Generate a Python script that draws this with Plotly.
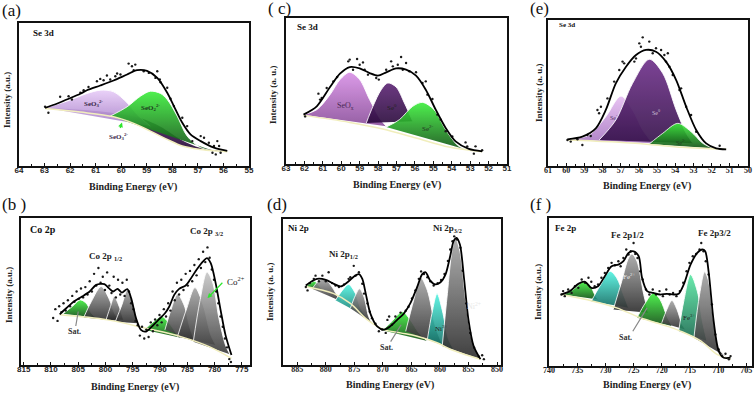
import plotly.graph_objects as go

# ---------------- (a) Se 3d ----------------
A_FIT_X = [62.98, 62.6, 62.13, 61.6, 61.34, 60.82, 60.3, 59.77, 59.38, 58.99, 58.59, 58.2, 57.94, 57.61, 57.29, 56.89, 56.37, 55.85]
A_FIT_Y = [40.7, 43.0, 46.5, 50.5, 53.0, 56.3, 59.8, 64.0, 67.0, 66.5, 61.6, 51.2, 41.9, 30.2, 22.1, 17.4, 12.8, 10.5]
A_BG_X = [62.98, 61.6, 60.3, 59.51, 58.86, 58.2, 57.61, 56.89, 56.24, 55.85]
A_BG_Y = [40.2, 37.7, 34.4, 29.8, 24.4, 18.6, 14.0, 11.6, 10.5, 10.0]
A_DATA_X = [62.98, 62.85, 62.39, 62.06, 61.93, 61.6, 61.47, 61.28, 60.95, 60.82, 60.69, 60.56, 60.43, 60.23, 60.16, 60.03,
            59.71, 59.58, 59.51, 59.45, 59.12, 58.92, 58.66, 58.59, 58.49, 58.46, 58.2, 58.07, 57.94, 57.61, 57.42, 57.22,
            56.89, 56.76, 56.57, 56.43, 56.37, 56.3, 56.24, 56.17, 56.11]
A_DATA_Y = [41.4, 37.2, 48.4, 48.8, 46.5, 51.2, 53.0, 55.3, 59.3, 60.9, 60.0, 63.3, 60.5, 62.8, 64.7, 64.0,
            71.6, 69.8, 67.0, 70.9, 66.3, 65.1, 61.6, 66.3, 60.5, 58.6, 54.7, 47.0, 41.9, 33.7, 27.9, 17.4,
            20.9, 19.8, 16.3, 9.3, 14.0, 8.1, 17.4, 14.0, 9.3]
A_PEAK_X = [
    [62.98, 61.47, 60.16, 59.25, 58.46, 57.68, 56.89, 55.85, 56.89, 57.61, 58.2, 58.86, 59.51, 60.3, 61.6],
    [62.98, 62.13, 61.34, 60.82, 60.3, 59.77, 59.38, 58.86],
    [60.43, 59.77, 59.25, 58.86, 58.46, 58.2, 57.81, 57.42, 56.89, 56.37],
]
A_PEAK_Y = [
    [40.7, 39.1, 36.7, 33.5, 27.4, 18.6, 12.6, 10.0, 11.6, 14.0, 18.6, 24.4, 29.8, 34.4, 37.7],
    [40.7, 45.3, 50.7, 53.0, 51.9, 44.2, 36.0, 27.9],
    [34.9, 41.4, 48.8, 52.3, 50.7, 46.5, 34.9, 20.9, 12.8, 10.5],
]

# ---------------- (c) Se 3d ----------------
C_FIT_X = [62.05, 61.33, 60.61, 60.07, 59.54, 59.0, 58.46, 58.01, 57.56, 57.02, 56.48, 55.94, 55.41, 54.87, 54.33, 53.79, 53.07, 52.35]
C_FIT_Y = [33.8, 39.5, 52.7, 61.9, 66.4, 65.5, 62.3, 60.5, 62.8, 65.5, 64.6, 60.5, 50.9, 37.2, 24.7, 15.5, 10.3, 8.7]
C_BG_X = [62.05, 59.54, 57.74, 55.94, 54.15, 52.35]
C_BG_Y = [33.3, 28.5, 24.0, 17.8, 11.6, 8.4]
C_DATA_X = [61.96, 61.24, 61.15, 61.06, 60.79, 60.43, 60.22, 59.62, 59.54, 59.36, 59.14, 59.0, 58.82, 58.73, 58.55, 58.1,
            57.96, 57.56, 57.29, 57.2, 56.93, 56.75, 56.66, 56.48, 56.3, 55.94, 55.59, 55.41, 55.32, 55.05, 54.78, 54.6,
            54.33, 53.97, 53.25, 53.16, 52.71, 52.8, 52.35]
C_DATA_Y = [32.6, 48.2, 44.1, 45.2, 52.1, 56.6, 59.6, 70.3, 71.5, 64.6, 71.9, 68.0, 69.6, 64.6, 61.2, 58.9,
            57.8, 64.6, 70.3, 66.9, 68.0, 73.3, 64.6, 69.2, 63.5, 62.8, 55.5, 56.6, 47.5, 44.5, 33.8, 30.4,
            22.4, 18.9, 14.8, 12.1, 12.1, 7.1, 9.4]
C_PEAK_X = [
    [62.05, 61.33, 60.61, 60.07, 59.54, 59.0, 58.46, 57.92, 57.56],
    [58.64, 58.28, 57.83, 57.47, 57.02, 56.57, 56.12],
    [57.56, 56.84, 56.12, 55.59, 54.96, 54.33, 53.61, 52.89],
]
C_PEAK_Y = [
    [33.8, 37.2, 47.5, 57.8, 62.8, 57.8, 44.1, 31.5, 25.8],
    [28.1, 39.5, 50.9, 55.5, 52.7, 41.8, 29.2],
    [25.3, 30.4, 39.5, 42.2, 37.2, 23.5, 12.1, 8.7],
]

# ---------------- (e) Se 3d ----------------
E_FIT_X = [59.93, 59.11, 58.37, 57.82, 57.27, 56.71, 56.16, 55.61, 55.06, 54.51, 53.95, 53.4, 52.85, 52.3, 51.75, 51.2]
E_FIT_Y = [18.3, 20.1, 25.8, 38.4, 56.6, 68.0, 76.0, 79.5, 78.3, 71.5, 58.9, 40.6, 24.7, 15.5, 12.1, 11.4]
E_BG_X = [59.93, 57.27, 55.43, 53.59, 51.2]
E_BG_Y = [17.8, 16.4, 14.8, 12.8, 11.4]
E_DATA_X = [59.93, 59.75, 59.38, 59.11, 58.83, 58.65, 58.28, 58.19, 58.09, 57.73, 57.36, 57.08, 56.9, 56.81, 56.25, 56.16,
            55.98, 55.89, 55.79, 55.43, 55.24, 55.06, 54.78, 54.6, 54.51, 54.41, 54.32, 54.14, 53.77, 53.68, 53.4, 53.13,
            52.85, 51.56]
E_DATA_Y = [17.8, 16.7, 18.3, 14.4, 21.2, 20.5, 38.4, 36.1, 40.6, 46.3, 57.8, 65.8, 71.5, 70.3, 71.5, 73.7,
            84.0, 81.7, 88.1, 85.2, 77.2, 80.6, 79.5, 76.0, 71.5, 77.2, 68.0, 62.3, 52.1, 53.2, 40.6, 34.9,
            23.5, 13.9]
E_PEAK_X = [
    [59.93, 58.74, 57.82, 56.99, 56.35, 55.79, 55.24],
    [58.19, 57.27, 56.35, 55.43, 54.69, 53.95, 53.4, 53.03],
    [55.43, 54.69, 53.86, 53.13, 52.48, 51.93],
]
E_PEAK_Y = [
    [18.3, 21.2, 33.8, 47.9, 38.4, 24.7, 15.5],
    [17.8, 31.5, 56.6, 73.1, 63.5, 38.4, 22.4, 15.5],
    [15.1, 22.4, 29.2, 23.5, 15.5, 12.1],
]

# ---------------- (b) Co 2p ----------------
B_FIT_X = [808.4, 807.2, 805.8, 804.3, 802.9, 801.7, 800.2, 799.4, 798.6, 797.8, 797.0, 796.0, 795.3, 794.4, 793.5, 792.6,
           791.5, 790.3, 789.1, 788.3, 787.4, 786.5, 785.3, 784.5, 783.3, 782.1, 781.4, 780.7, 779.8, 778.9, 778.0, 776.9]
B_FIT_Y = [34.5, 38.6, 43.2, 46.6, 50.0, 54.5, 55.0, 52.3, 50.0, 51.8, 49.3, 51.6, 45.5, 31.8, 23.9, 22.7,
           26.1, 30.7, 35.2, 39.8, 47.7, 51.8, 54.1, 58.0, 64.8, 70.5, 72.7, 69.3, 55.7, 37.5, 20.5, 6.8]
B_BG_X = [808.4, 799.6, 792.6, 786.2, 781.0, 776.9]
B_BG_Y = [34.1, 30.7, 25.0, 19.3, 12.5, 4.5]
B_DATA_X = [809.6, 809.2, 808.8, 808.5, 808.1, 807.7, 807.3, 806.9, 806.5, 806.1, 805.7, 805.3, 804.9, 804.5, 804.1, 803.7,
            803.3, 802.9, 802.5, 802.1, 801.7, 801.3, 800.9, 800.5, 800.1, 799.7, 799.3, 798.9, 798.5, 798.1, 797.7, 797.3,
            796.9, 796.5, 796.1, 795.7, 795.3, 794.9, 794.5, 794.1, 793.7, 793.3, 792.9, 792.5, 792.1, 791.7, 791.3, 790.9,
            790.5, 790.1, 789.7, 789.3, 788.9, 788.5, 788.1, 787.7, 787.3, 786.9, 786.5, 786.1, 785.7, 785.3, 784.9, 784.5,
            784.1, 783.7, 783.3, 782.9, 782.5, 782.1, 781.7, 781.3, 780.9, 780.5, 780.1, 779.7, 779.3, 778.9, 778.5, 778.1,
            777.7, 777.3, 777.0]
B_DATA_Y = [32, 38, 30, 40, 36, 42, 37, 44, 40, 47, 43, 50, 45, 52, 46, 53,
            48, 57, 50, 62, 54, 66, 56, 60, 51, 63, 54, 49, 60, 46, 58, 48,
            56, 47, 58, 50, 42, 38, 30, 27, 20, 26, 18, 24, 19, 29, 23, 31,
            27, 34, 29, 38, 33, 42, 37, 50, 44, 56, 48, 58, 51, 62, 54, 64,
            57, 68, 61, 72, 66, 77, 70, 80, 73, 65, 58, 50, 42, 33, 26, 18,
            12, 4, 2]
B_PEAK_X = [
    [807.8, 806.1, 804.6, 803.4, 802.6, 801.7],
    [804.0, 802.6, 800.8, 799.4, 798.2, 797.3],
    [799.9, 799.1, 798.4, 797.6, 796.7],
    [798.2, 797.0, 796.0, 795.1, 794.1],
    [792.9, 791.2, 789.7, 788.3, 786.8, 786.2],
    [789.1, 788.0, 786.8, 785.6, 784.5, 783.6],
    [786.8, 785.1, 783.6, 782.1, 780.7, 779.8],
    [783.9, 782.7, 781.4, 780.4, 779.2, 778.0, 777.2],
]
B_PEAK_Y = [
    [34.8, 39.8, 44.3, 41.4, 35.2, 32.3],
    [32.3, 43.2, 53.4, 45.5, 34.1, 30.0],
    [30.7, 39.8, 46.6, 40.9, 30.7],
    [29.5, 40.9, 51.1, 43.2, 28.4],
    [23.9, 29.5, 33.0, 28.4, 20.5, 18.6],
    [23.9, 37.5, 48.2, 40.9, 25.0, 15.9],
    [19.3, 38.6, 52.7, 40.9, 20.5, 13.6],
    [15.9, 43.2, 63.2, 56.8, 31.8, 13.6, 7.3],
]

# ---------------- (d) Ni 2p ----------------
D_FIT_X = [883.5, 882.7, 881.5, 880.0, 878.6, 877.4, 876.2, 875.1, 874.2, 873.6, 873.0, 872.2, 871.0, 869.8, 868.7, 867.5,
           866.3, 865.2, 864.0, 863.1, 862.5, 861.7, 860.8, 859.9, 859.0, 858.2, 857.6, 857.1, 856.5, 855.8, 855.0, 854.1, 852.9]
D_FIT_Y = [54.5, 56.7, 59.0, 58.3, 55.6, 53.8, 56.7, 60.5, 62.3, 59.0, 48.9, 35.4, 26.5, 24.2, 26.5, 30.9,
           35.4, 42.2, 53.4, 62.3, 63.5, 57.8, 55.2, 56.7, 62.3, 74.7, 84.8, 87.0, 82.5, 60.1, 30.9, 13.0, 4.0]
D_BG_X = [883.5, 878.6, 875.7, 872.7, 869.8, 866.9, 864.0, 860.5, 858.2, 855.2, 852.9]
D_BG_Y = [53.8, 48.9, 42.2, 30.9, 24.2, 22.0, 19.7, 15.2, 10.8, 6.7, 4.0]
D_DATA_X = [883.5, 883.2, 882.8, 882.1, 881.8, 881.2, 880.6, 880.0, 879.5, 878.9, 878.3, 877.7, 876.8, 876.0, 875.7, 875.1,
            874.8, 874.2, 873.6, 873.3, 872.7, 872.3, 871.9, 871.3, 870.7, 870.1, 869.5, 869.2, 868.9, 868.4, 867.8, 866.9,
            866.0, 865.5, 864.9, 864.3, 863.7, 863.3, 862.8, 862.2, 861.7, 861.1, 860.4, 859.8, 859.2, 858.6, 858.2, 857.8,
            857.5, 857.0, 856.4, 856.0, 855.4, 854.7, 854.0, 853.2, 852.6, 852.3]
D_DATA_Y = [53.4, 51.1, 56.1, 59.0, 61.2, 57.4, 61.2, 57.4, 63.5, 56.1, 54.5, 53.4, 55.2, 59.0, 60.1, 67.9,
            61.2, 63.5, 55.6, 48.9, 42.2, 36.5, 32.1, 28.3, 23.1, 24.2, 22.0, 30.9, 33.2, 27.6, 33.2, 35.9,
            37.2, 39.9, 45.5, 51.1, 59.0, 64.1, 62.3, 60.1, 57.4, 54.5, 56.1, 58.3, 62.3, 71.3, 79.1, 84.8,
            88.1, 85.9, 80.3, 64.6, 42.2, 22.0, 11.9, 5.8, 6.7, 4.0]
D_PEAK_X = [
    [883.5, 882.7, 882.0, 881.2, 880.6],
    [882.4, 881.2, 880.2, 878.9, 877.7, 877.1],
    [878.3, 877.1, 876.0, 874.8, 873.9, 873.0],
    [875.7, 874.8, 874.1, 873.3, 872.5, 871.9],
    [870.1, 868.7, 866.6, 865.2, 863.7, 862.2],
    [866.0, 864.6, 863.4, 862.2, 860.8, 859.6],
    [862.2, 861.4, 860.5, 859.6, 858.5, 857.6],
    [859.6, 858.7, 857.9, 857.3, 856.5, 855.5, 854.4, 852.9],
]
D_PEAK_Y = [
    [54.0, 56.1, 57.4, 54.5, 51.1],
    [52.2, 57.8, 59.0, 53.4, 45.5, 43.3],
    [44.4, 51.1, 55.2, 48.9, 38.8, 33.2],
    [38.8, 47.8, 52.2, 46.6, 33.2, 28.7],
    [23.8, 28.7, 36.5, 30.9, 22.0, 16.4],
    [23.1, 44.4, 60.1, 51.1, 26.5, 14.1],
    [17.5, 35.4, 48.9, 37.7, 17.5, 10.8],
    [13.0, 48.9, 78.0, 87.0, 78.0, 44.4, 17.5, 4.0],
]

# ---------------- (f) Fe 2p ----------------
F_FIT_X = [737.8, 736.3, 734.8, 733.6, 732.5, 731.3, 730.1, 728.9, 727.7, 726.8, 725.9, 725.0, 724.1, 723.5, 722.6, 721.5,
           720.3, 719.1, 717.9, 717.0, 716.1, 714.9, 713.7, 712.8, 712.3, 711.7, 710.8, 709.9, 709.0, 707.8]
F_FIT_Y = [48.3, 50.6, 55.5, 56.9, 52.8, 53.9, 60.7, 67.4, 68.5, 70.8, 76.4, 77.5, 74.2, 59.6, 50.6, 49.4,
           48.3, 48.8, 48.3, 48.8, 55.1, 68.5, 76.4, 78.7, 77.5, 64.0, 30.3, 10.1, 5.6, 5.6]
F_BG_X = [737.8, 732.2, 728.0, 723.8, 719.1, 716.7, 713.1, 710.2, 707.8]
F_BG_Y = [48.3, 43.8, 39.3, 32.6, 27.0, 23.6, 16.9, 7.9, 4.5]
F_DATA_X = [737.8, 737.5, 737.2, 736.6, 736.0, 735.4, 734.8, 734.2, 733.6, 733.0, 732.5, 731.9, 731.3, 730.7, 730.1, 729.5,
            728.9, 728.3, 727.7, 727.3, 726.8, 726.3, 725.9, 725.5, 725.0, 724.7, 724.3, 723.8, 723.4, 722.8, 722.2, 721.6,
            721.0, 720.4, 719.8, 719.2, 718.6, 718.0, 717.4, 716.8, 716.2, 715.6, 715.1, 714.5, 713.9, 713.3, 713.0, 712.6,
            712.2, 711.7, 711.1, 710.5, 709.9, 709.3, 708.7, 708.1, 707.8]
F_DATA_Y = [48.3, 50.6, 47.2, 51.7, 49.4, 53.9, 52.8, 58.4, 56.2, 59.6, 56.9, 53.9, 55.1, 59.6, 62.9, 66.3,
            69.7, 68.1, 70.8, 67.4, 73.0, 78.7, 75.3, 77.5, 83.1, 75.7, 73.0, 64.0, 58.4, 51.7, 48.3, 51.7,
            48.3, 50.6, 47.2, 51.7, 48.3, 49.4, 47.2, 50.6, 56.2, 64.0, 69.7, 74.2, 75.7, 78.7, 83.1, 77.5,
            70.8, 61.8, 41.6, 21.3, 11.2, 6.7, 8.3, 4.5, 6.7]
F_PEAK_X = [
    [737.5, 735.7, 733.9, 732.8, 731.9, 731.3],
    [732.5, 731.0, 729.2, 728.0, 726.8, 725.9],
    [728.6, 727.1, 725.9, 725.3, 724.4, 723.2, 722.4],
    [724.4, 722.9, 721.5, 720.3, 719.1, 718.2],
    [720.0, 719.1, 718.2, 717.3, 716.4, 715.8],
    [717.0, 716.1, 714.9, 713.7, 712.8, 712.0],
    [714.3, 713.3, 712.4, 711.7, 710.8, 709.6, 707.8],
]
F_PEAK_Y = [
    [48.3, 51.7, 56.9, 55.1, 48.3, 44.9],
    [43.8, 53.9, 64.0, 59.6, 48.3, 39.3],
    [38.2, 57.3, 73.0, 75.7, 70.8, 48.3, 36.0],
    [32.6, 42.7, 49.4, 44.9, 33.7, 27.0],
    [29.2, 38.2, 44.3, 38.2, 28.1, 24.7],
    [23.6, 43.8, 61.8, 50.6, 30.3, 16.9],
    [19.1, 48.3, 63.6, 57.3, 30.3, 10.1, 4.5],
]

# fill colours (top, bottom) for each component
LAV = ("#e8cdf8", "#a47cc6")
DKP = ("#4e1e6a", "#240833")
GRN = ("#3cf03c", "#0f4d12")
ORC = ("#d890e6", "#8a4e9a")
DKP2 = ("#5c2474", "#2a0a3c")
LAV2 = ("#e6bdf2", "#a878c2")
PUR = ("#6e2f8a", "#330f48")
GRY = ("#a6a6a6", "#2b2b2b")
LGRY = ("#c8c8c8", "#3a3a3a")
CYN = ("#52f4e2", "#0f6a60")
MNT = ("#5ae8a4", "#17674d")

SERIF = "Liberation Serif"
SANS = "Liberation Sans"

fig = go.Figure()


def add_panel(n, peak_x, peak_y, cols, fit_x, fit_y, bg_x, bg_y, dx, dy, band=False):
    xa = "x" if n == 1 else f"x{n}"
    ya = "y" if n == 1 else f"y{n}"
    for i, (px, py, col) in enumerate(zip(peak_x, peak_y, cols)):
        lw = 0 if (band and i == 0) else 0.9
        fig.add_trace(go.Scatter(
            x=px, y=py, mode="lines", fill="toself",
            line=dict(color="white", width=lw, shape="spline", smoothing=0.9),
            fillgradient=dict(type="vertical", colorscale=[[0, col[1]], [1, col[0]]]),
            opacity=0.9, xaxis=xa, yaxis=ya, hoverinfo="skip", showlegend=False))
    fig.add_trace(go.Scatter(
        x=bg_x, y=bg_y, mode="lines", line=dict(color="#f1eebc", width=1.5, shape="spline"),
        xaxis=xa, yaxis=ya, hoverinfo="skip", showlegend=False))
    fig.add_trace(go.Scatter(
        x=dx, y=dy, mode="markers", marker=dict(size=2.4, color="#1a1a1a"),
        xaxis=xa, yaxis=ya, hoverinfo="skip", showlegend=False))
    fig.add_trace(go.Scatter(
        x=fit_x, y=fit_y, mode="lines", line=dict(color="black", width=1.8, shape="spline", smoothing=0.8),
        xaxis=xa, yaxis=ya, hoverinfo="skip", showlegend=False))


add_panel(1, A_PEAK_X, A_PEAK_Y, [DKP, LAV, GRN], A_FIT_X, A_FIT_Y, A_BG_X, A_BG_Y, A_DATA_X, A_DATA_Y, band=True)
add_panel(2, B_PEAK_X, B_PEAK_Y, [GRN, GRY, GRY, GRY, GRN, GRY, GRY, LGRY], B_FIT_X, B_FIT_Y, B_BG_X, B_BG_Y, B_DATA_X, B_DATA_Y)
add_panel(3, C_PEAK_X, C_PEAK_Y, [ORC, DKP2, GRN], C_FIT_X, C_FIT_Y, C_BG_X, C_BG_Y, C_DATA_X, C_DATA_Y)
add_panel(4, D_PEAK_X, D_PEAK_Y, [GRN, GRY, CYN, GRY, GRN, GRY, CYN, GRY], D_FIT_X, D_FIT_Y, D_BG_X, D_BG_Y, D_DATA_X, D_DATA_Y)
add_panel(5, E_PEAK_X, E_PEAK_Y, [LAV2, PUR, GRN], E_FIT_X, E_FIT_Y, E_BG_X, E_BG_Y, E_DATA_X, E_DATA_Y)
add_panel(6, F_PEAK_X, F_PEAK_Y, [GRN, CYN, GRY, GRN, GRY, MNT, GRY], F_FIT_X, F_FIT_Y, F_BG_X, F_BG_Y, F_DATA_X, F_DATA_Y)

W, H = 756, 396


def dom_x(a, b):
    return [a / W, b / W]


def dom_y(top, bottom):
    return [1 - bottom / H, 1 - top / H]


def xaxis(n, domain, rng, dtick, minor, tickfam):
    return dict(domain=domain, range=rng, anchor="y" if n == 1 else f"y{n}",
                showline=True, mirror=True, linecolor="#111", linewidth=1.5,
                ticks="inside", ticklen=3, tickwidth=1, tickcolor="#111",
                dtick=dtick, tick0=0, ticklabelstandoff=-4,
                minor=dict(ticks="inside", ticklen=2, dtick=minor, tickcolor="#111"),
                showgrid=False, zeroline=False, automargin=False,
                tickfont=dict(family=tickfam, size=8, color="#222", weight="bold"))


def yaxis(n, domain):
    return dict(domain=domain, range=[0, 100], anchor="x" if n == 1 else f"x{n}",
                showline=True, mirror=True, linecolor="#111", linewidth=1.5, automargin=False,
                showticklabels=False, ticks="", showgrid=False, zeroline=False)


fig.update_layout(
    width=W, height=H, margin=dict(l=0, r=0, t=0, b=0, autoexpand=False),
    paper_bgcolor="white", plot_bgcolor="white", showlegend=False,
    xaxis=xaxis(1, dom_x(19, 249), [64, 55], 1, 0.5, SANS),
    yaxis=yaxis(1, dom_y(23, 166)),
    xaxis2=xaxis(2, dom_x(21, 250), [815.5, 773.5], 5, 2.5, SANS),
    yaxis2=yaxis(2, dom_y(218, 365)),
    xaxis3=xaxis(3, dom_x(286, 507), [63, 51], 1, 0.5, SANS),
    yaxis3=yaxis(3, dom_y(18, 164)),
    xaxis4=xaxis(4, dom_x(283, 501), [887.5, 849.3], 5, 2.5, SERIF),
    yaxis4=yaxis(4, dom_y(219, 365)),
    xaxis5=xaxis(5, dom_x(548, 748), [61, 50], 1, 0.5, SERIF),
    yaxis5=yaxis(5, dom_y(20, 166)),
    xaxis6=xaxis(6, dom_x(549, 752), [740, 704], 5, 2.5, SERIF),
    yaxis6=yaxis(6, dom_y(218, 366)),
)

ann = []
# panel letters
for txt, px, py in [("(a)", 0, 10), ("( c)", 266, 9), ("(e)", 528, 9),
                    ("(b )", 0, 205), ("(d)", 265, 205), ("(f )", 528, 205)]:
    ann.append(dict(text=txt, x=px / W, y=1 - py / H, xref="paper", yref="paper",
                    xanchor="left", yanchor="middle", showarrow=False,
                    font=dict(family=SERIF, size=17, color="#111")))

# axis titles
for cx, cy in [(133, 187), (397, 185), (647, 186), (135, 387), (390, 385), (647, 385)]:
    ann.append(dict(text="Binding Energy (eV)", x=cx / W, y=1 - cy / H, xref="paper", yref="paper",
                    xanchor="center", yanchor="middle", showarrow=False,
                    font=dict(family=SERIF, size=10, color="#222", weight="bold")))
for txt, cx, cy in [("Intensity (a.u.)", 7, 100), ("Intensity (a. u.)", 273, 95), ("Intensity (a. u.)", 539, 93),
                    ("Intensity (a.u.)", 9, 295), ("Intensity (a. u.)", 270, 292), ("Intensity (a.u.)", 538, 292)]:
    ann.append(dict(text=txt, x=cx / W, y=1 - cy / H, xref="paper", yref="paper", textangle=-90,
                    xanchor="center", yanchor="middle", showarrow=False,
                    font=dict(family=SERIF, size=9, color="#222", weight="bold")))

# element titles inside boxes
for txt, n, fx, fy, sz in [("Se 3d", 1, 0.05, 0.93, 9), ("Co 2p", 2, 0.03, 0.925, 10),
                           ("Se 3d", 3, 0.04, 0.94, 9), ("Ni 2p", 4, 0.015, 0.94, 9),
                           ("Se 3d", 5, 0.045, 0.965, 7), ("Fe 2p", 6, 0.02, 0.93, 9)]:
    xr = "x" if n == 1 else f"x{n}"
    yr = "y" if n == 1 else f"y{n}"
    ann.append(dict(text=txt, x=fx, y=fy, xref=xr + " domain", yref=yr + " domain",
                    xanchor="left", yanchor="middle", showarrow=False,
                    font=dict(family=SERIF, size=sz, color="#111", weight="bold")))


def lab(n, txt, x, y, sz=7, color="#333", bold=True):
    xr = "x" if n == 1 else f"x{n}"
    yr = "y" if n == 1 else f"y{n}"
    ann.append(dict(text=txt, x=x, y=y, xref=xr, yref=yr, showarrow=False,
                    font=dict(family=SERIF, size=sz, color=color, weight="bold" if bold else "normal")))


def arrow(n, x, y, ax, ay, color, head=2):
    xr = "x" if n == 1 else f"x{n}"
    yr = "y" if n == 1 else f"y{n}"
    ann.append(dict(text="", x=x, y=y, ax=ax, ay=ay, xref=xr, yref=yr, axref=xr, ayref=yr,
                    showarrow=True, arrowhead=head, arrowsize=0.8, arrowwidth=1.2, arrowcolor=color))


# (a)
lab(1, "SeO<sub>3</sub><sup>2-</sup>", 61.08, 44.0, 7, "#3a2a4a")
lab(1, "SeO<sub>2</sub><sup>2-</sup>", 58.86, 40.7, 7, "#1d3d1d")
lab(1, "SeO<sub>3</sub><sup>2-</sup>", 60.1, 20.9, 7, "#3a2a4a")
arrow(1, 59.97, 30.5, 60.06, 25.5, "#2ee62e")
# (c)
lab(3, "SeO<sub>x</sub>", 59.75, 39.5, 8, "#4a2a55", bold=False)
lab(3, "Se<sup>0</sup>", 57.24, 39.0, 7, "#222", bold=False)
lab(3, "Se<sup>2-</sup>", 55.32, 24.0, 7, "#223322", bold=False)
# (e)
lab(5, "Se<sup>-</sup>", 57.36, 33.8, 6, "#553366", bold=False)
lab(5, "Se<sup>0</sup>", 55.06, 37.2, 6, "#cfc0d8", bold=False)
lab(5, "Se<sup>2-</sup>", 53.68, 16.7, 6, "#224422", bold=False)
# (b)
lab(2, "Co 2p <sub>1/2</sub>", 800.0, 73.8, 9, "#222")
lab(2, "Co 2p <sub>3/2</sub>", 781.5, 90.9, 9, "#222")
lab(2, "Co<sup>2+</sup>", 776.0, 57.3, 9, "#222", bold=False)
arrow(2, 781.3, 45.5, 778.3, 57.0, "#2ee62e")
lab(2, "Sat.", 805.6, 22.7, 8, "#333")
arrow(2, 805.0, 36.4, 805.5, 25.5, "#888888", head=0)
# (d)
lab(4, "Ni 2p<sub>1/2</sub>", 876.9, 75.8, 9, "#222")
lab(4, "Ni 2p<sub>3/2</sub>", 858.6, 93.7, 9, "#222")
lab(4, "Ni<sup>2+</sup>", 854.0, 40.4, 8, "#e8e8e8", bold=False)
lab(4, "Ni<sup>3+</sup>", 859.8, 24.7, 7, "#222", bold=False)
lab(4, "Sat.", 869.4, 11.9, 8, "#333")
arrow(4, 866.8, 27.6, 868.8, 15.0, "#888888", head=0)
# (f)
lab(6, "Fe 2p1/2", 726.0, 88.8, 9, "#222")
lab(6, "Fe 2p3/2", 710.6, 89.9, 9, "#222")
lab(6, "Fe<sup>2+</sup>", 725.9, 60.7, 7, "#eeeeee", bold=False)
lab(6, "Fe<sup>3+</sup>", 715.2, 32.6, 7, "#222", bold=False)
lab(6, "Sat.", 726.5, 19.1, 8, "#333")
arrow(6, 722.6, 39.3, 725.3, 22.5, "#888888", head=0)

fig.update_layout(annotations=ann)

# the page body has a default 8px margin; remove it so the figure fills the window
fig.write_html("out.html", config={"displayModeBar": False},
               post_script="document.body.style.margin='0px';")
